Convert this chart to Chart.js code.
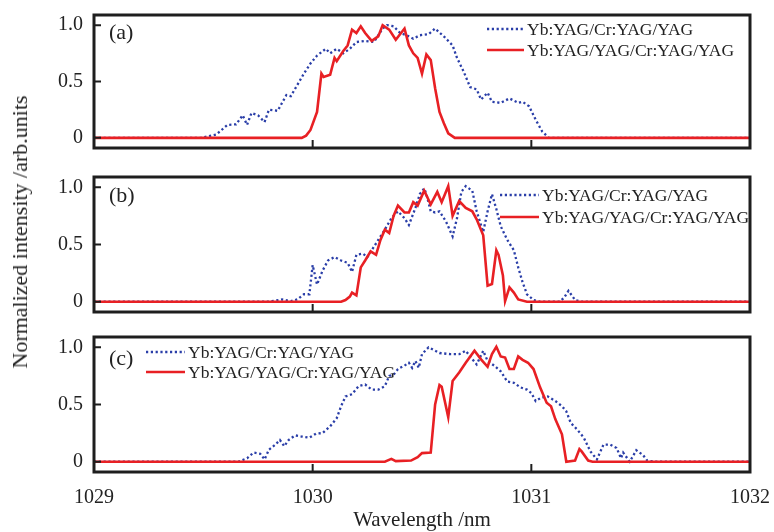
<!DOCTYPE html>
<html>
<head>
<meta charset="utf-8">
<script src="https://cdn.jsdelivr.net/npm/chart.js@4.4.1/dist/chart.umd.min.js"></script>
<style>
  html, body { margin: 0; padding: 0; background: #fff; }
  #wrap { position: relative; width: 774px; height: 532px; overflow: hidden; background: #fff; }
  canvas { position: absolute; left: 0; }
  #ytitle { position: absolute; left: 20px; top: 232px; transform: translate(-50%, -50%) rotate(-90deg);
            font: 22px "Liberation Serif", "DejaVu Serif", serif; color: #222; white-space: nowrap; z-index: 5; }
</style>
</head>
<body>
<div id="wrap">
  <canvas id="cA" width="774" height="160" style="top:0px"></canvas>
  <canvas id="cB" width="774" height="160" style="top:163px"></canvas>
  <canvas id="cC" width="774" height="207" style="top:325px"></canvas>
  <div id="ytitle">Normalized intensity /arb.units</div>
</div>
<script>
// ---------- data ----------
const seriesNames = ['Yb:YAG/Cr:YAG/YAG', 'Yb:YAG/YAG/Cr:YAG/YAG'];
const panelTags = ['(a)', '(b)', '(c)'];
const xTickLabels = [1029, 1030, 1031, 1032];
const yTickLabels = [0, 0.5, 1.0];
const xAxisTitle = 'Wavelength /nm';

// Panel (a)
const aBlueX = [1029.00,1029.49,1029.56,1029.61,1029.65,1029.68,1029.70,1029.72,1029.75,1029.78,1029.80,1029.84,1029.88,1029.90,1029.93,1029.96,1029.99,1030.02,1030.06,1030.08,1030.11,1030.14,1030.17,1030.20,1030.24,1030.28,1030.32,1030.34,1030.37,1030.40,1030.43,1030.46,1030.49,1030.53,1030.56,1030.60,1030.64,1030.66,1030.69,1030.72,1030.75,1030.77,1030.80,1030.82,1030.86,1030.90,1030.94,1030.96,1030.99,1031.02,1031.05,1031.08,1032.00];
const aBlueY = [0,0,0.03,0.115,0.12,0.20,0.115,0.22,0.20,0.14,0.25,0.24,0.38,0.37,0.47,0.57,0.66,0.73,0.79,0.75,0.79,0.75,0.79,0.85,0.86,0.85,0.97,1.0,0.99,0.93,0.91,0.88,0.91,0.92,0.97,0.90,0.82,0.71,0.59,0.45,0.43,0.34,0.40,0.32,0.31,0.35,0.31,0.32,0.28,0.16,0.056,0,0];
const aRedX = [1029.00,1029.95,1029.97,1029.99,1030.02,1030.04,1030.05,1030.08,1030.10,1030.11,1030.14,1030.16,1030.18,1030.20,1030.22,1030.24,1030.27,1030.30,1030.32,1030.35,1030.38,1030.42,1030.44,1030.46,1030.48,1030.50,1030.52,1030.54,1030.56,1030.58,1030.60,1030.62,1030.65,1032.00];
const aRedY = [0,0,0.02,0.07,0.23,0.57,0.54,0.56,0.71,0.68,0.77,0.82,0.96,0.93,0.99,0.93,0.86,0.90,1.0,0.96,0.87,0.97,0.82,0.75,0.71,0.57,0.74,0.69,0.44,0.23,0.13,0.04,0,0];

// Panel (b)
const bBlueX = [1029.00,1029.80,1029.86,1029.90,1029.93,1029.96,1029.985,1030.00,1030.02,1030.045,1030.07,1030.10,1030.13,1030.16,1030.18,1030.20,1030.23,1030.25,1030.27,1030.30,1030.33,1030.36,1030.39,1030.42,1030.44,1030.47,1030.49,1030.51,1030.52,1030.54,1030.56,1030.58,1030.61,1030.64,1030.66,1030.68,1030.70,1030.73,1030.75,1030.78,1030.80,1030.82,1030.84,1030.86,1030.89,1030.92,1030.94,1030.96,1030.98,1031.01,1031.04,1031.13,1031.15,1031.17,1031.20,1031.23,1032.00];
const bBlueY = [0,0,0.02,0.005,0.02,0.065,0.065,0.32,0.15,0.27,0.36,0.39,0.36,0.34,0.26,0.41,0.42,0.39,0.45,0.54,0.63,0.73,0.79,0.73,0.67,0.82,0.94,0.99,0.94,0.79,0.78,0.79,0.70,0.57,0.73,0.96,1.01,0.97,0.79,0.61,0.79,0.94,0.81,0.66,0.54,0.45,0.30,0.17,0.065,0.015,0,0,0.035,0.095,0.015,0,0];
const bRedX = [1029.00,1030.13,1030.15,1030.17,1030.18,1030.20,1030.22,1030.24,1030.265,1030.29,1030.31,1030.33,1030.35,1030.37,1030.39,1030.42,1030.44,1030.46,1030.48,1030.51,1030.54,1030.57,1030.59,1030.62,1030.64,1030.67,1030.70,1030.73,1030.75,1030.78,1030.80,1030.82,1030.84,1030.85,1030.87,1030.88,1030.90,1030.92,1030.94,1030.98,1032.00];
const bRedY = [0,0,0.015,0.045,0.08,0.055,0.30,0.36,0.44,0.41,0.54,0.63,0.60,0.75,0.84,0.78,0.78,0.87,0.84,0.97,0.85,0.96,0.87,1.01,0.75,0.88,0.82,0.79,0.72,0.58,0.14,0.155,0.45,0.41,0.23,0.005,0.125,0.08,0.02,0,0];

// Panel (c)
const cBlueX = [1029.00,1029.66,1029.70,1029.73,1029.76,1029.78,1029.80,1029.83,1029.85,1029.87,1029.89,1029.92,1029.95,1029.985,1030.015,1030.045,1030.08,1030.11,1030.13,1030.15,1030.18,1030.21,1030.24,1030.27,1030.30,1030.33,1030.35,1030.37,1030.39,1030.42,1030.44,1030.455,1030.47,1030.485,1030.50,1030.53,1030.55,1030.58,1030.63,1030.67,1030.70,1030.72,1030.75,1030.78,1030.80,1030.83,1030.86,1030.89,1030.92,1030.95,1030.98,1031.00,1031.02,1031.045,1031.075,1031.11,1031.14,1031.16,1031.18,1031.21,1031.24,1031.27,1031.30,1031.33,1031.36,1031.39,1031.41,1031.42,1031.45,1031.48,1031.51,1031.53,1031.56,1032.00];
const cBlueY = [0,0,0.03,0.08,0.07,0.02,0.105,0.15,0.19,0.135,0.19,0.23,0.22,0.21,0.245,0.25,0.31,0.38,0.485,0.57,0.59,0.66,0.675,0.63,0.63,0.66,0.75,0.76,0.81,0.84,0.865,0.82,0.88,0.82,0.94,1.0,0.98,0.95,0.94,0.94,0.97,0.92,0.85,0.97,0.88,0.84,0.79,0.70,0.69,0.65,0.63,0.60,0.53,0.56,0.57,0.53,0.485,0.44,0.34,0.28,0.21,0.09,0.02,0.15,0.15,0.12,0.03,0.08,0,0.10,0.06,0.01,0,0];
const cRedX = [1029.00,1030.33,1030.36,1030.38,1030.45,1030.48,1030.50,1030.54,1030.56,1030.58,1030.59,1030.62,1030.64,1030.67,1030.70,1030.74,1030.77,1030.80,1030.82,1030.84,1030.86,1030.88,1030.90,1030.92,1030.94,1030.96,1030.985,1031.01,1031.04,1031.07,1031.09,1031.11,1031.14,1031.16,1031.20,1031.22,1031.23,1031.26,1031.28,1032.00];
const cRedY = [0,0,0.025,0.005,0.01,0.04,0.075,0.08,0.50,0.67,0.655,0.39,0.705,0.78,0.865,0.97,0.895,0.83,0.94,1.005,0.92,0.91,0.81,0.81,0.92,0.89,0.865,0.81,0.65,0.515,0.485,0.37,0.24,0.0,0.01,0.11,0.09,0.01,0,0];

// ---------- styling ----------
const BLUE = 'rgb(42,62,168)';
const RED = 'rgb(232,32,36)';
const INK = '#1e1e1e';
const SERIF = '"Liberation Serif", "DejaVu Serif", serif';

const toPts = (xs, ys) => xs.map((x, i) => ({ x: x, y: ys[i] }));

const framePlugin = {
  id: 'frame',
  afterDatasetsDraw(chart, args, o) {
    const { ctx, chartArea: a, scales } = chart;
    ctx.save();
    ctx.strokeStyle = INK;
    ctx.lineWidth = 2;
    ctx.beginPath();
    yTickLabels.forEach(v => {
      const y = scales.y.getPixelForValue(v);
      ctx.moveTo(a.left, y); ctx.lineTo(a.left + 7, y);
    });
    [1030, 1031].forEach(v => {
      const x = scales.x.getPixelForValue(v);
      ctx.moveTo(x, a.bottom); ctx.lineTo(x, a.bottom - 8);
    });
    ctx.stroke();
    ctx.lineWidth = 3;
    ctx.strokeRect(a.left, a.top, a.right - a.left, a.bottom - a.top);
    // panel tag
    ctx.fillStyle = '#222';
    ctx.font = '22px ' + SERIF;
    ctx.textBaseline = 'middle';
    ctx.textAlign = 'left';
    ctx.fillText(o.tag, a.left + 15, a.top + o.tagDy);
    // legend
    ctx.font = '17.5px ' + SERIF;
    chart.data.datasets.forEach((ds, i) => {
      const y = a.top + o.legDy + i * o.legGap;
      ctx.beginPath();
      ctx.strokeStyle = ds.borderColor;
      ctx.lineWidth = ds.borderWidth;
      ctx.setLineDash(ds.borderDash || []);
      ctx.moveTo(o.legX, y); ctx.lineTo(o.legX + o.legLen, y);
      ctx.stroke();
      ctx.setLineDash([]);
      ctx.fillStyle = '#222';
      ctx.fillText(ds.label, o.legX + o.legLen + 3, y + 1);
    });
    ctx.restore();
  }
};

function noPad(s) { s.paddingTop = 0; s.paddingBottom = 0; s.paddingLeft = 0; s.paddingRight = 0; }

function makePanel(id, blueX, blueY, redX, redY, frameOpts, padding, showX) {
  const ctx = document.getElementById(id);
  return new Chart(ctx, {
    type: 'line',
    data: {
      datasets: [
        { label: seriesNames[0], data: toPts(blueX, blueY), borderColor: BLUE, borderWidth: 2.3,
          borderDash: [2.2, 2.6], borderCapStyle: 'butt', pointRadius: 0, tension: 0, order: 1 },
        { label: seriesNames[1], data: toPts(redX, redY), borderColor: RED, borderWidth: 2.6,
          pointRadius: 0, tension: 0, order: 0 }
      ]
    },
    options: {
      responsive: false,
      devicePixelRatio: 1,
      animation: false,
      events: [],
      layout: { padding: padding },
      plugins: { legend: { display: false }, tooltip: { enabled: false }, frame: frameOpts },
      scales: {
        x: {
          type: 'linear', min: 1029, max: 1032, display: showX,
          grid: { display: false, drawTicks: false }, border: { display: false },
          afterBuildTicks: s => { s.ticks = xTickLabels.map(v => ({ value: v })); },
          afterFit: s => { noPad(s); if (showX) s.height = 60; },
          ticks: { autoSkip: false, maxRotation: 0, padding: 14, color: '#222',
                   font: { family: SERIF, size: 20 }, callback: v => String(v) },
          title: { display: showX, text: xAxisTitle, color: '#222', padding: { top: 0, bottom: 0 },
                   font: { family: SERIF, size: 21, lineHeight: 1.1 } }
        },
        y: {
          type: 'linear', min: -0.09, max: 1.09,
          grid: { display: false, drawTicks: false }, border: { display: false },
          afterBuildTicks: s => { s.ticks = yTickLabels.map(v => ({ value: v })); },
          afterFit: s => { noPad(s); s.width = 94; },
          ticks: { autoSkip: false, padding: 11, color: '#222', font: { family: SERIF, size: 20 },
                   callback: v => (v === 0 ? '0' : v.toFixed(1)) }
        }
      }
    },
    plugins: [framePlugin]
  });
}

makePanel('cA', aBlueX, aBlueY, aRedX, aRedY,
  { tag: panelTags[0], tagDy: 18, legX: 487, legLen: 37, legDy: 14, legGap: 21 },
  { left: 0, right: 24, top: 15, bottom: 12 }, false);
makePanel('cB', bBlueX, bBlueY, bRedX, bRedY,
  { tag: panelTags[1], tagDy: 19, legX: 500, legLen: 39, legDy: 18, legGap: 22 },
  { left: 0, right: 24, top: 14, bottom: 11 }, false);
makePanel('cC', cBlueX, cBlueY, cRedX, cRedY,
  { tag: panelTags[2], tagDy: 22, legX: 146, legLen: 39, legDy: 15, legGap: 20 },
  { left: 0, right: 24, top: 12, bottom: 0 }, true);
</script>
</body>
</html>
